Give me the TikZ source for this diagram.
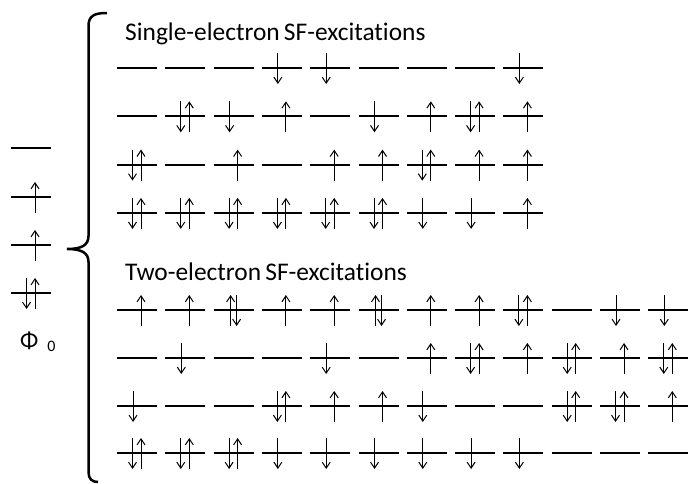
\documentclass[tikz,border=0pt]{standalone}
\usepackage{fontspec}
\setmainfont{Carlito}[Ligatures=NoCommon]
\usepackage{tikz}
\usetikzlibrary{arrows.meta}

\newcommand{\orbital}[3]{%
    \draw[level] (#1,#2) -- ++(40,0);
    \ifcase#3\relax
    \or \draw[spin] (#1+24,#2+16) -- (#1+24,#2-15);
    \or \draw[spin] (#1+16,#2-15) -- (#1+16,#2+16);
    \or \draw[spin] (#1+15.5,#2-15) -- (#1+15.5,#2+16);
        \draw[spin] (#1+24,#2+16) -- (#1+24,#2-15);
    \or \draw[spin] (#1+17,#2+16) -- (#1+17,#2-15);
        \draw[spin] (#1+23,#2-15) -- (#1+23,#2+16);
    \fi}

\begin{document}
\begin{tikzpicture}[
    x=1pt, y=-1pt,
    level/.style={line width=2pt, black},
    spin/.style={-{Straight Barb[length=6pt, width=8pt]}, line width=1pt, black},
    brace/.style={line width=2.5pt, black},
    title/.style={anchor=base west, inner sep=0pt, font=\fontsize{25.4}{30}\selectfont}
  ]
    \useasboundingbox (0,0) rectangle (689,484);
    \node[title] (single) at (125,41) {Single-electron\,SF-excitations};
    \node[title] (double) at (125,280) {Two-electron\,SF-excitations};
    \node[anchor=base west, inner sep=0pt] (phi0) at (20,348)
      {\fontsize{24}{28}\selectfont Φ\hspace{9pt}\raisebox{-4pt}{\fontsize{16}{18}\selectfont 0}};
    \foreach \y/\occ in {148/0, 197/1, 245/1, 293/3}
      {\orbital{11}{\y}{\occ}}
    \foreach \y/\row in {68/{0,0,0,2,2,0,0,0,2}, 116.3/{0,3,2,1,0,2,1,3,1},
                         164.6/{3,0,1,0,1,1,3,1,1}, 212.9/{3,3,3,3,3,3,2,2,1}}
      {\foreach \occ [count=\i from 0] in \row
        {\orbital{117+48.3*\i}{\y}{\occ}}}
    \foreach \y/\row in {310/{1,1,4,1,1,4,1,1,3,0,2,2}, 358/{0,2,0,0,2,0,1,3,1,3,1,3},
                         406/{2,0,0,3,1,1,2,0,0,3,3,1}, 453/{3,3,3,2,2,2,2,2,2,0,0,0}}
      {\foreach \occ [count=\i from 0] in \row
        {\orbital{117+48.3*\i}{\y}{\occ}}}
    \draw[brace] (107,13) .. controls (94,13) and (88.5,16) .. (88.5,26)
      -- (88.5,236) .. controls (88.5,245) and (82,249) .. (67,249)
      .. controls (82,249) and (88.5,253) .. (88.5,262)
      -- (88.5,472) .. controls (88.5,479) and (92,482) .. (98,482);
\end{tikzpicture}
\end{document}
